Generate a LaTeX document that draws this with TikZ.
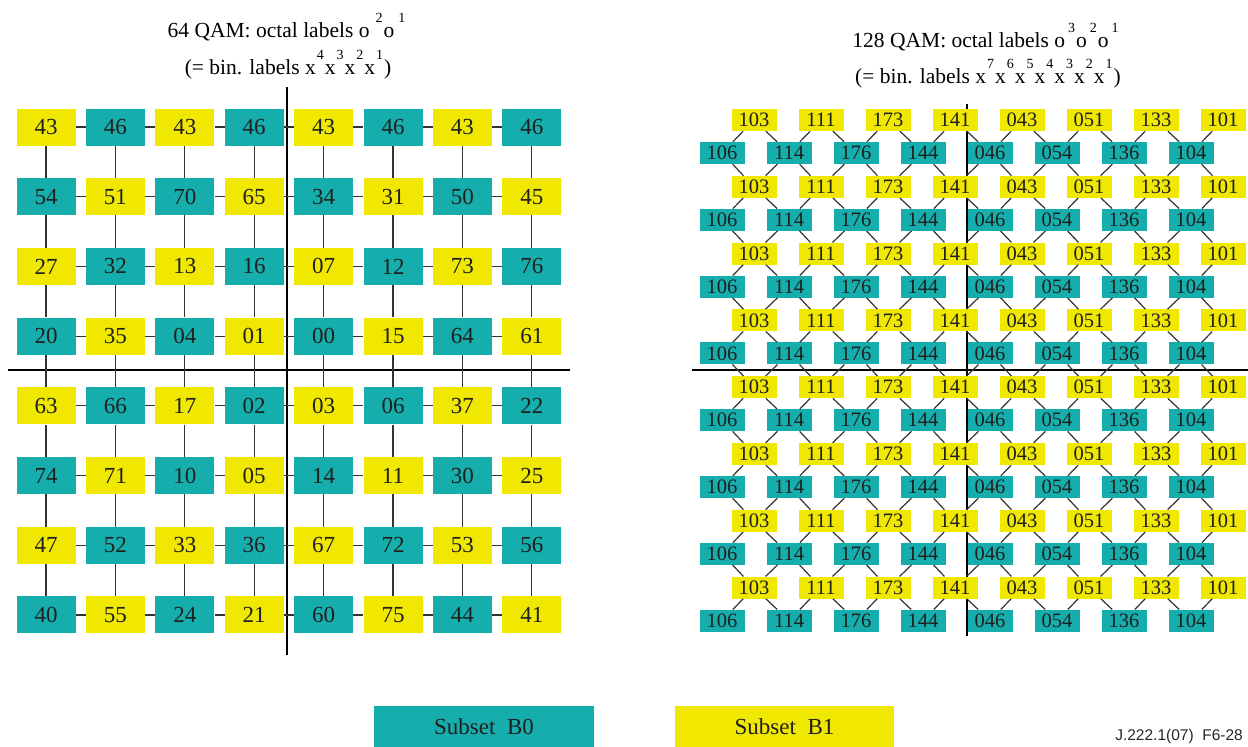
\documentclass[tikz,border=0pt]{standalone}
\usepackage{fontspec}
\setmainfont{Liberation Serif}
\newfontfamily\tagfont{Liberation Sans}
\usepackage{tikz}
\usetikzlibrary{positioning,calc}
\usepackage{xcolor}
\definecolor{subsetA}{HTML}{16AEAC}
\definecolor{subsetB}{HTML}{F0E800}
\newcommand{\supidx}[2][1pt]{\kern#1\raisebox{15pt}{\fontsize{14}{14}\selectfont#2}\kern1pt}

\begin{document}
\begin{tikzpicture}[x=1pt,y=-1pt,
  qam/.style={inner sep=0pt,text=black!88},
  big/.style={qam,minimum width=59pt,minimum height=37pt,font=\fontsize{23}{23}\selectfont},
  small/.style={qam,minimum width=45pt,minimum height=22pt,font=\fontsize{20.5}{20.5}\selectfont},
  title/.style={anchor=base,inner sep=0pt,font=\fontsize{21.5}{21.5}\selectfont},
  link/.style={black!80,line width=1.2pt},
  axis/.style={black,line width=2.6pt}]
  \useasboundingbox (0,0) rectangle (1248,747);

  % titles
  \node[title] (ttl64) at (287,37) {64 QAM: octal labels o\supidx[6pt]{2}o\supidx[4pt]{1}};
  \node[title] (sub64) at (288,74) {(= bin. labels x\supidx{4}x\supidx{3}x\supidx{2}x\supidx{1})};
  \node[title] (ttl128) at (986,47) {128 QAM: octal labels o\supidx[3pt]{3}o\supidx[3pt]{2}o\supidx[3pt]{1}};
  \node[title] (sub128) at (988,83) {(= bin. labels x\supidx{7}x\supidx{6}x\supidx{5}x\supidx{4}x\supidx{3}x\supidx{2}x\supidx{1})};

  % 64 QAM
  \draw[axis] (287,87) -- (287,655);
  \draw[axis] (8,370) -- (570,370);
  \foreach \row [count=\r from 0] in {{43,46,43,46,43,46,43,46},{54,51,70,65,34,31,50,45},
      {27,32,13,16,07,12,73,76},{20,35,04,01,00,15,64,61},{63,66,17,02,03,06,37,22},
      {74,71,10,05,14,11,30,25},{47,52,33,36,67,72,53,56},{40,55,24,21,60,75,44,41}}{
    \foreach \lab [count=\c from 0] in \row {
      \pgfmathtruncatemacro\odd{mod(\r+\c,2)}
      \ifnum\odd=0 \def\fillc{subsetB}\else\def\fillc{subsetA}\fi
      \node[big,fill=\fillc] (q-\r-\c) at ({46+69.4*\c},{127+69.7*\r}) {\lab};
    }
  }
  \foreach \r in {0,...,7}{
    \foreach \c [count=\n] in {0,...,6}{
      \draw[link] (q-\r-\c) -- (q-\r-\n);
      \draw[link] (q-\c-\r) -- (q-\n-\r);
    }
  }

  % 128 QAM
  \draw[axis] (967,104) -- (967,636);
  \draw[axis] (692,370) -- (1248,370);
  \foreach \r in {0,...,7}{
    \foreach \lab [count=\c from 0] in {103,111,173,141,043,051,133,101}
      \node[small,fill=subsetB] (y-\r-\c) at ({754+67*\c},{120+66.8*\r}) {\lab};
    \foreach \lab [count=\c from 0] in {106,114,176,144,046,054,136,104}
      \node[small,fill=subsetA] (b-\r-\c) at ({722+67*\c},{153+66.8*\r}) {\lab};
  }
  \foreach \r [count=\rn] in {0,...,7}{
    \foreach \c in {0,...,7}{
      \draw[link] (b-\r-\c) -- (y-\r-\c);
      \ifnum\r<7 \draw[link] (b-\r-\c) -- (y-\rn-\c);\fi
    }
    \foreach \c [count=\cn] in {0,...,6}{
      \draw[link] (b-\r-\cn) -- (y-\r-\c);
      \ifnum\r<7 \draw[link] (b-\r-\cn) -- (y-\rn-\c);\fi
    }
  }

  % legend
  \node[qam,fill=subsetA,minimum width=220pt,minimum height=41pt,font=\fontsize{23}{23}\selectfont] (keyA) at (484,726.5) {Subset\ \ B0};
  \node[qam,fill=subsetB,minimum width=219pt,minimum height=41pt,font=\fontsize{23}{23}\selectfont] (keyB) at (784.5,726.5) {Subset\ \ B1};
  \node[anchor=base east,inner sep=0pt,text=black!85,font=\tagfont\fontsize{15.5}{15.5}\selectfont] (tag) at (1243,740) {J.222.1(07)\ \ F6-28};
\end{tikzpicture}
\end{document}
